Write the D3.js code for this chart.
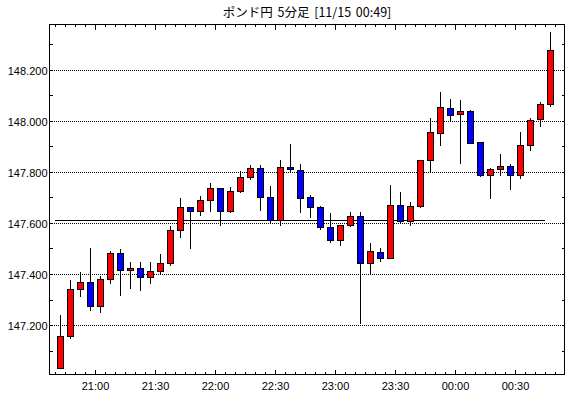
<!DOCTYPE html>
<html><head><meta charset="utf-8">
<script src="https://cdn.jsdelivr.net/npm/d3@7/dist/d3.min.js"></script>
<style>html,body{margin:0;padding:0;background:#fff;}svg{display:block;}</style>
</head><body>
<script>
const title = "ポンド円 5分足 [11/15 00:49]";
const times = ["20:40","20:45","20:50","20:55","21:00","21:05","21:10","21:15","21:20","21:25",
  "21:30","21:35","21:40","21:45","21:50","21:55","22:00","22:05","22:10","22:15",
  "22:20","22:25","22:30","22:35","22:40","22:45","22:50","22:55","23:00","23:05",
  "23:10","23:15","23:20","23:25","23:30","23:35","23:40","23:45","23:50","23:55",
  "00:00","00:05","00:10","00:15","00:20","00:25","00:30","00:35","00:40","00:45"];
const openV = [147.031,147.156,147.341,147.369,147.273,147.380,147.482,147.414,147.424,147.388,
  147.410,147.443,147.574,147.663,147.647,147.690,147.737,147.647,147.724,147.780,
  147.816,147.702,147.613,147.820,147.808,147.702,147.663,147.584,147.533,147.592,
  147.627,147.443,147.486,147.463,147.671,147.608,147.665,147.845,147.953,148.051,
  148.027,148.039,147.918,147.790,147.813,147.825,147.790,147.907,148.008,148.067];
const highV = [147.244,147.382,147.410,147.507,147.397,147.495,147.502,147.452,147.452,147.452,
  147.481,147.593,147.702,147.663,147.711,147.759,147.737,147.746,147.808,147.830,
  147.830,147.750,147.851,147.913,147.835,147.715,147.671,147.643,147.592,147.648,
  147.648,147.527,147.507,147.754,147.727,147.687,147.850,148.017,148.119,148.091,
  148.085,148.047,147.922,147.821,147.873,147.837,147.960,148.016,148.080,148.354];
const lowV = [147.031,147.150,147.312,147.260,147.253,147.366,147.319,147.345,147.336,147.365,
  147.405,147.434,147.547,147.500,147.630,147.645,147.591,147.643,147.720,147.771,
  147.649,147.600,147.591,147.798,147.642,147.622,147.576,147.524,147.512,147.587,
  147.208,147.400,147.449,147.463,147.602,147.592,147.661,147.800,147.905,147.999,
  147.834,147.914,147.786,147.699,147.790,147.734,147.778,147.886,147.982,148.057];
const closeV = [147.158,147.341,147.369,147.273,147.380,147.482,147.414,147.424,147.388,147.413,
  147.445,147.573,147.663,147.647,147.690,147.737,147.647,147.725,147.780,147.816,
  147.700,147.613,147.820,147.812,147.698,147.663,147.584,147.533,147.592,147.627,
  147.443,147.490,147.463,147.671,147.608,147.667,147.846,147.955,148.055,148.024,
  148.039,147.914,147.790,147.812,147.825,147.790,147.907,148.004,148.067,148.279];
const gridValues = [147.2,147.4,147.6,147.8,148.0,148.2];
const minorValues = [147.1,147.2,147.3,147.4,147.5,147.6,147.7,147.8,147.9,148.0,148.1,148.2,148.3];
const xLabels = ["21:00","21:30","22:00","22:30","23:00","23:30","00:00","00:30"];
const refLevel = 147.612;

const W = 570, H = 398;
const L = 49.5, R = 564.5, T = 24.5, B = 374.5;
const svg = d3.select("body").append("svg").attr("width", W).attr("height", H)
  .attr("shape-rendering", "crispEdges");
svg.append("rect").attr("width", W).attr("height", H).attr("fill", "#fff");

const x = d3.scaleBand().domain(times).range([55, 555]).padding(0);
const y = d3.scaleLinear().domain([147.008, 148.380]).range([B, T]);
const py = v => Math.round(y(v) - 0.5) + 0.5;

// title
svg.append("text").attr("x", 307).attr("y", 17).attr("text-anchor", "middle")
  .attr("font-family", "'Noto Sans CJK JP', sans-serif").attr("font-size", 12.5)
  .attr("word-spacing", 2).attr("shape-rendering", "auto")
  .attr("fill", "#000").text(title);

// grid (dotted)
svg.append("g").selectAll("line").data(gridValues).join("line")
  .attr("x1", 50).attr("x2", 564).attr("y1", d => py(d)).attr("y2", d => py(d))
  .attr("stroke", "#000").attr("stroke-width", 1).attr("stroke-dasharray", "1 1");

// y ticks left & right
const ticksG = svg.append("g").attr("stroke", "#000").attr("stroke-width", 1);
ticksG.selectAll("line.l").data(minorValues).join("line").attr("class", "l")
  .attr("x1", L).attr("x2", L + 3).attr("y1", d => py(d)).attr("y2", d => py(d));
ticksG.selectAll("line.r").data(minorValues).join("line").attr("class", "r")
  .attr("x1", R).attr("x2", R - 3).attr("y1", d => py(d)).attr("y2", d => py(d));

// x ticks bottom & top
const tickPos = times.map(t => ({t, x: x(t)})).concat([{t: null, x: x(times[times.length-1]) + x.bandwidth()}]);
const isMajor = d => xLabels.includes(d.t);
ticksG.selectAll("line.b").data(tickPos).join("line").attr("class", "b")
  .attr("x1", d => d.x + 0.5).attr("x2", d => d.x + 0.5)
  .attr("y1", B).attr("y2", d => B - (isMajor(d) ? 5 : 2.5));
ticksG.selectAll("line.t").data(tickPos).join("line").attr("class", "t")
  .attr("x1", d => d.x + 0.5).attr("x2", d => d.x + 0.5)
  .attr("y1", T).attr("y2", d => T + (isMajor(d) ? 5 : 2.5));

// y labels
svg.append("g").attr("shape-rendering", "auto").selectAll("text").data(gridValues).join("text")
  .attr("x", 47.5).attr("y", d => py(d) + 4.5).attr("text-anchor", "end")
  .attr("font-family", "'Liberation Sans', Arial, sans-serif").attr("font-size", 11)
  .attr("fill", "#000").text(d => d3.format(".3f")(d));

// x labels
svg.append("g").attr("shape-rendering", "auto").selectAll("text").data(xLabels).join("text")
  .attr("x", d => x(d) + 0.5).attr("y", 390).attr("text-anchor", "middle")
  .attr("font-family", "'Liberation Sans', Arial, sans-serif").attr("font-size", 11)
  .attr("fill", "#000").text(d => d);

// reference line
svg.append("line")
  .attr("x1", x(times[0])).attr("x2", x(times[times.length-1]))
  .attr("y1", py(refLevel)).attr("y2", py(refLevel))
  .attr("stroke", "#000").attr("stroke-width", 1);

// candles
const data = times.map((t, i) => ({t, o: openV[i], h: highV[i], l: lowV[i], c: closeV[i]}));
const cand = svg.append("g").selectAll("g").data(data).join("g");
cand.append("line")
  .attr("x1", d => x(d.t) + 5.5).attr("x2", d => x(d.t) + 5.5)
  .attr("y1", d => py(d.h)).attr("y2", d => py(d.l))
  .attr("stroke", "#000").attr("stroke-width", 1);
cand.append("rect")
  .attr("x", d => x(d.t) + 2.5).attr("width", 6)
  .attr("y", d => py(Math.max(d.o, d.c)))
  .attr("height", d => Math.max(1, py(Math.min(d.o, d.c)) - py(Math.max(d.o, d.c))))
  .attr("fill", d => d.c >= d.o ? "#ff0000" : "#0000ff")
  .attr("stroke", "#000").attr("stroke-width", 1);

// frame
svg.append("rect").attr("x", L).attr("y", T).attr("width", R - L).attr("height", B - T)
  .attr("fill", "none").attr("stroke", "#000").attr("stroke-width", 1);
</script>
</body></html>
